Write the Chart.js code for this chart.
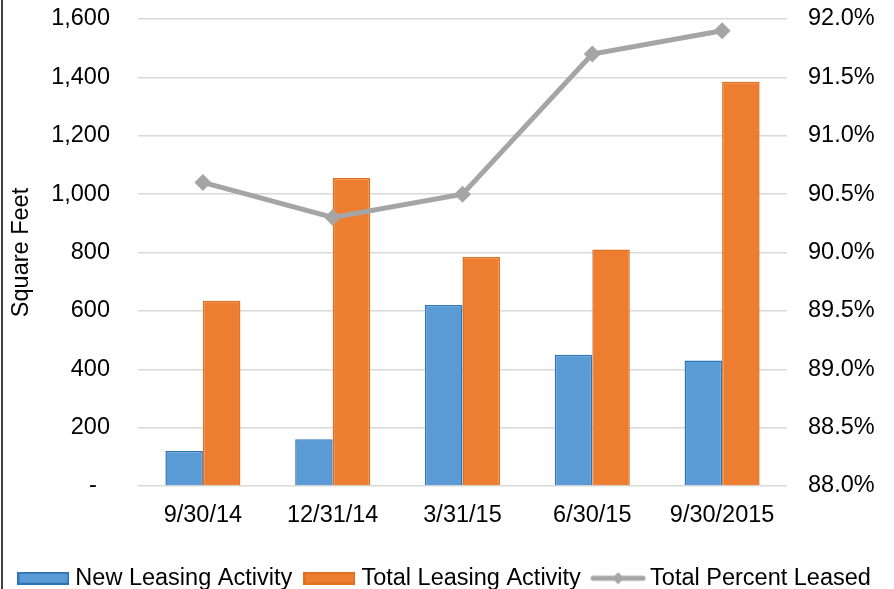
<!DOCTYPE html>
<html>
<head>
<meta charset="utf-8">
<script src="https://cdn.jsdelivr.net/npm/chart.js@4/dist/chart.umd.min.js"></script>
<style>
  html, body { margin: 0; padding: 0; background: #fff; overflow: hidden; }
  #wrap { position: relative; width: 894px; height: 600px; }
  #frame { position: absolute; left: 1px; top: 0; width: 2px; height: 600px; background: #404040; }
</style>
</head>
<body>
<div id="wrap">
  <canvas id="chart" width="894" height="600"></canvas>
  <div id="frame"></div>
</div>
<script>
// Quarter-end dates
const categories = ['9/30/14', '12/31/14', '3/31/15', '6/30/15', '9/30/2015'];
// Leasing activity, square feet
const newLeasing = [120, 160, 620, 450, 430];
const totalLeasing = [635, 1055, 785, 810, 1385];
// Occupancy, percent
const percentLeased = [90.6, 90.3, 90.5, 91.7, 91.9];

const BLUE = '#5B9BD5', BLUE_EDGE = '#2E75B6';
const ORANGE = '#ED7D31', ORANGE_EDGE = '#E0701F';
const GRAY = '#A5A5A5';
const FONT = { family: 'Liberation Sans, Arial, sans-serif', size: 23.5 };

// Legend swatches
function boxSwatch(fill, edge) {
  const c = document.createElement('canvas');
  c.width = 52; c.height = 13;
  const g = c.getContext('2d');
  g.fillStyle = fill; g.fillRect(0, 0, 52, 13);
  g.strokeStyle = edge; g.lineWidth = 2; g.strokeRect(1, 1, 50, 11);
  return c;
}
function lineSwatch() {
  const c = document.createElement('canvas');
  c.width = 56; c.height = 14;
  const g = c.getContext('2d');
  g.strokeStyle = GRAY; g.lineWidth = 5; g.lineCap = 'round';
  g.beginPath(); g.moveTo(3, 7); g.lineTo(53, 7); g.stroke();
  g.fillStyle = GRAY;
  g.beginPath(); g.moveTo(28, 1); g.lineTo(34, 7); g.lineTo(28, 13); g.lineTo(22, 7); g.closePath(); g.fill();
  return c;
}
const swatches = [boxSwatch(BLUE, BLUE_EDGE), boxSwatch(ORANGE, ORANGE_EDGE), lineSwatch()];

// Fixed side-axis widths, no automatic label overhang padding
const fitSide = (w) => (s) => { s.width = w; s.paddingTop = 0; s.paddingBottom = 0; };

new Chart(document.getElementById('chart'), {
  data: {
    labels: categories,
    datasets: [
      {
        type: 'bar', label: 'New Leasing Activity', data: newLeasing, yAxisID: 'y',
        backgroundColor: BLUE, borderColor: BLUE_EDGE, borderWidth: 1.5,
        categoryPercentage: 0.578, barPercentage: 1.0, order: 2
      },
      {
        type: 'bar', label: 'Total Leasing Activity', data: totalLeasing, yAxisID: 'y',
        backgroundColor: ORANGE, borderColor: ORANGE_EDGE, borderWidth: 1.5,
        categoryPercentage: 0.578, barPercentage: 1.0, order: 2
      },
      {
        type: 'line', label: 'Total Percent Leased', data: percentLeased, yAxisID: 'y1',
        borderColor: GRAY, backgroundColor: GRAY, borderWidth: 5, tension: 0,
        pointStyle: 'rectRot', pointRadius: 8.5, pointBorderWidth: 0,
        pointBackgroundColor: GRAY, order: 1
      }
    ]
  },
  options: {
    responsive: false,
    animation: false,
    layout: { autoPadding: false, padding: { top: 19, left: 0, right: 0, bottom: 0 } },
    plugins: {
      tooltip: { enabled: false },
      legend: {
        position: 'bottom',
        labels: {
          font: FONT, color: '#000', padding: 17,
          usePointStyle: true, pointStyleWidth: 40.5, boxHeight: 13,
          generateLabels: (chart) => chart.data.datasets.map((ds, i) => ({
            text: ds.label, datasetIndex: i, pointStyle: swatches[i],
            fillStyle: ds.backgroundColor, strokeStyle: ds.borderColor,
            lineWidth: 0, fontColor: '#000', hidden: false
          }))
        }
      }
    },
    scales: {
      x: {
        grid: { display: false, drawTicks: false },
        border: { display: false },
        ticks: { font: FONT, color: '#000', padding: 15, maxRotation: 0 },
        afterFit: (s) => { s.height = 63.5; s.paddingLeft = 0; s.paddingRight = 0; }
      },
      y: {
        position: 'left', min: 0, max: 1600,
        grid: { color: '#D9D9D9', lineWidth: 1.5, drawTicks: false },
        border: { display: false },
        ticks: {
          stepSize: 200, font: FONT, color: '#000', padding: 28,
          callback: (v) => v === 0 ? '-  ' : v.toLocaleString('en-US')
        },
        title: { display: true, text: 'Square Feet', font: FONT, color: '#000', padding: { top: 7, bottom: 0 } },
        afterFit: fitSide(138)
      },
      y1: {
        position: 'right', min: 88, max: 92,
        grid: { display: false, drawTicks: false },
        border: { display: false },
        ticks: {
          stepSize: 0.5, font: FONT, color: '#000', padding: 21,
          callback: (v) => v.toFixed(1) + '%'
        },
        afterFit: fitSide(107)
      }
    }
  }
});
</script>
</body>
</html>
